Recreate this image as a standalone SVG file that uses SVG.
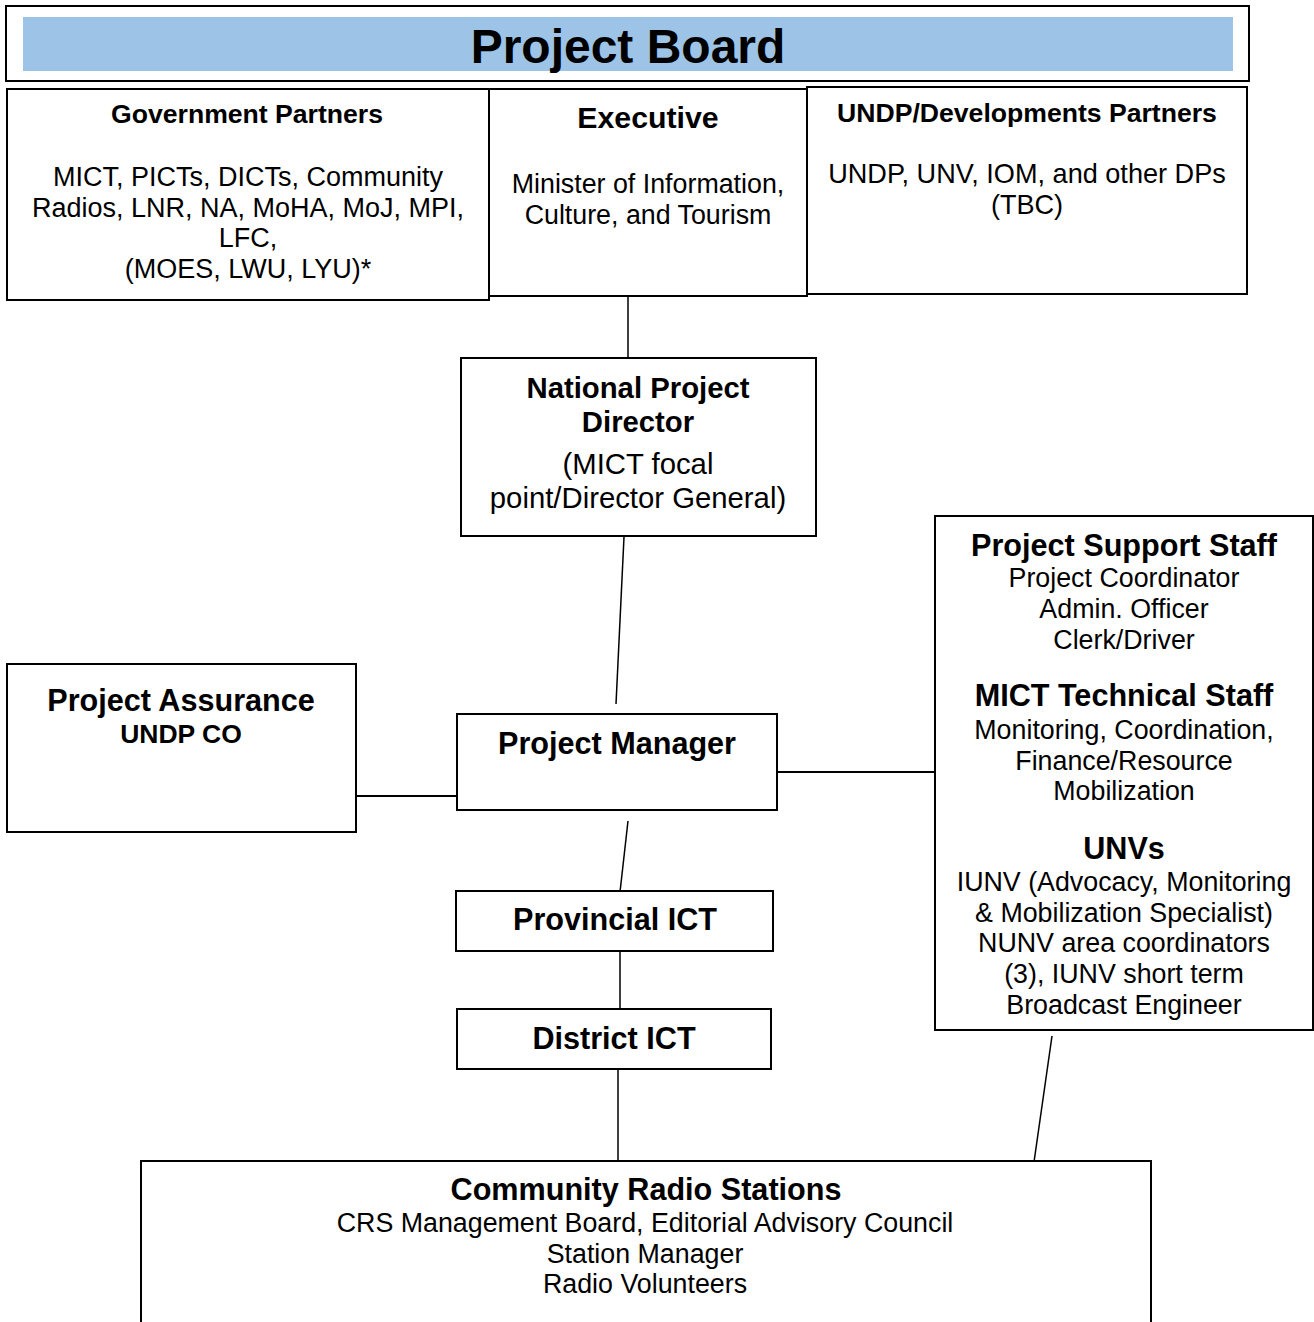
<svg xmlns="http://www.w3.org/2000/svg" width="1314" height="1322" viewBox="0 0 1314 1322">
<style>
.box{fill:#fff;stroke:#000;stroke-width:2}
.t{font-family:"Liberation Sans",Arial,sans-serif;fill:#000;text-anchor:middle}
.b{font-weight:bold}
.r{font-size:26.8px}
.h{font-size:30.6px;font-weight:bold}
.conn line{stroke:#000;stroke-width:1.5}
</style>
<rect width="1314" height="1322" fill="#fff"/>
<g id="project-board">
<rect class="box" x="6" y="6" width="1243" height="75"/>
<rect x="23" y="17" width="1210" height="54" fill="#9DC3E6"/>
<text class="t b" x="628" y="63" font-size="48">Project Board</text>
</g>
<g id="government-partners">
<rect class="box" x="7" y="89" width="482" height="211"/>
<text class="t b" x="247" y="123" font-size="26.6">Government Partners</text>
<text class="t" x="248" y="186" font-size="27">MICT, PICTs, DICTs, Community</text>
<text class="t" x="248" y="217" font-size="27">Radios, LNR, NA, MoHA, MoJ, MPI,</text>
<text class="t" x="248" y="247" font-size="27">LFC,</text>
<text class="t" x="248" y="278" font-size="27">(MOES, LWU, LYU)*</text>
</g>
<g id="executive">
<rect class="box" x="489" y="89" width="318" height="207"/>
<text class="t b" x="648" y="128" font-size="30.3">Executive</text>
<text class="t r" x="648" y="193">Minister of Information,</text>
<text class="t r" x="648" y="224">Culture, and Tourism</text>
</g>
<g id="undp-partners">
<rect class="box" x="807" y="87" width="440" height="207"/>
<text class="t b" x="1027" y="122" font-size="26.6">UNDP/Developments Partners</text>
<text class="t" x="1027" y="183" font-size="27.1">UNDP, UNV, IOM, and other DPs</text>
<text class="t" x="1027" y="214" font-size="27.1">(TBC)</text>
</g>
<g id="national-project-director">
<rect class="box" x="461" y="358" width="355" height="178" stroke-width="3"/>
<text class="t b" x="638" y="398" font-size="29.3">National Project</text>
<text class="t b" x="638" y="432" font-size="29.3">Director</text>
<text class="t" x="638" y="474" font-size="29.3">(MICT focal</text>
<text class="t" x="638" y="508" font-size="29.3">point/Director General)</text>
</g>
<g id="project-assurance">
<rect class="box" x="7" y="664" width="349" height="168"/>
<text class="t h" x="181" y="711">Project Assurance</text>
<text class="t b" x="181" y="743" font-size="26.5">UNDP CO</text>
</g>
<g id="project-manager">
<rect class="box" x="457" y="714" width="320" height="96"/>
<text class="t h" x="617" y="754">Project Manager</text>
</g>
<g id="provincial-ict">
<rect class="box" x="456" y="891" width="317" height="60"/>
<text class="t h" x="615" y="930">Provincial ICT</text>
</g>
<g id="district-ict">
<rect class="box" x="457" y="1009" width="314" height="60"/>
<text class="t h" x="614" y="1049">District ICT</text>
</g>
<g id="support-staff">
<rect class="box" x="935" y="516" width="378" height="514"/>
<text class="t h" x="1124" y="556">Project Support Staff</text>
<text class="t r" x="1124" y="587">Project Coordinator</text>
<text class="t r" x="1124" y="618">Admin. Officer</text>
<text class="t r" x="1124" y="649">Clerk/Driver</text>
<text class="t h" x="1124" y="706">MICT Technical Staff</text>
<text class="t r" x="1124" y="739">Monitoring, Coordination,</text>
<text class="t r" x="1124" y="770">Finance/Resource</text>
<text class="t r" x="1124" y="800">Mobilization</text>
<text class="t h" x="1124" y="859">UNVs</text>
<text class="t r" x="1124" y="891">IUNV (Advocacy, Monitoring</text>
<text class="t r" x="1124" y="922">&amp; Mobilization Specialist)</text>
<text class="t r" x="1124" y="952">NUNV area coordinators</text>
<text class="t r" x="1124" y="983">(3), IUNV short term</text>
<text class="t r" x="1124" y="1014">Broadcast Engineer</text>
</g>
<g id="community-radio-stations">
<rect class="box" x="141" y="1161" width="1010" height="200"/>
<text class="t h" x="646" y="1200">Community Radio Stations</text>
<text class="t r" x="645" y="1232">CRS Management Board, Editorial Advisory Council</text>
<text class="t r" x="645" y="1263">Station Manager</text>
<text class="t r" x="645" y="1293">Radio Volunteers</text>
</g>
<g id="connectors" class="conn">
<line x1="628" y1="297" x2="628" y2="357"/>
<line x1="624" y1="537" x2="616" y2="704"/>
<line x1="356" y1="796" x2="457" y2="796" style="stroke-width:2"/>
<line x1="777" y1="772" x2="935" y2="772" style="stroke-width:2"/>
<line x1="628" y1="821" x2="620" y2="892"/>
<line x1="620" y1="952" x2="620" y2="1009"/>
<line x1="618" y1="1070" x2="618" y2="1161"/>
<line x1="1052" y1="1036" x2="1034" y2="1162"/>
</g>
</svg>
